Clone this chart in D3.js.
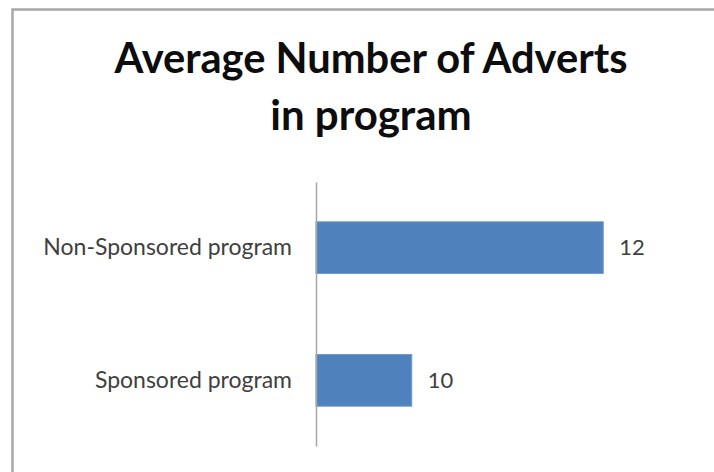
<!DOCTYPE html>
<html>
<head>
<meta charset="utf-8">
<script src="https://cdn.jsdelivr.net/npm/d3@7"></script>
<style>
  html, body { margin: 0; padding: 0; background: #ffffff; }
  svg { display: block; }
</style>
</head>
<body>
<svg id="chart" width="714" height="472"></svg>
<script>
// Chart data
const titleLines = ["Average Number of Adverts", "in program"];
const categories = ["Non-Sponsored program", "Sponsored program"];
const values = [12, 10];
const valueDomain = [9, 13];

const W = 714, H = 472;
const svg = d3.select("#chart");
const FONT = "Lato, Calibri, 'Open Sans', sans-serif";

// Chart frame (runs off the right and bottom edges)
svg.append("rect")
  .attr("x", 12.5).attr("y", 9.5)
  .attr("width", W + 20).attr("height", H + 20)
  .attr("fill", "#ffffff")
  .attr("stroke", "#a8a8a8")
  .attr("stroke-width", 2.5);

// Squeeze text to a given width when the font runs wider than it
function fitWidth(sel, w) {
  sel.each(function () {
    const len = this.getComputedTextLength();
    if (len > w) {
      d3.select(this).attr("textLength", w).attr("lengthAdjust", "spacingAndGlyphs");
    }
  });
}

// Title
const titleY = [73, 130];
const titleW = [513, 202];
titleLines.forEach((t, i) => {
  const el = svg.append("text")
    .attr("x", 371).attr("y", titleY[i])
    .attr("text-anchor", "middle")
    .attr("font-family", FONT)
    .attr("font-weight", 700)
    .attr("font-size", 42)
    .attr("fill", "#0d0d0d")
    .text(t);
  fitWidth(el, titleW[i]);
});

// Scales
const x = d3.scaleLinear().domain(valueDomain).range([316, 699]);
const y = d3.scaleBand().domain(categories).range([182, 446])
  .paddingInner(0.61).paddingOuter(0.3);

const data = categories.map((c, i) => ({ cat: c, val: values[i] }));

// Bars
svg.append("g").selectAll("rect")
  .data(data)
  .join("rect")
  .attr("x", x(valueDomain[0]))
  .attr("y", d => y(d.cat))
  .attr("width", d => x(d.val) - x(valueDomain[0]))
  .attr("height", y.bandwidth())
  .attr("fill", "#4f81bd")
  .attr("stroke", "#6f9bd1")
  .attr("stroke-width", 1);

// Category axis (line only, no ticks)
const axis = svg.append("g")
  .attr("transform", `translate(${x(valueDomain[0])},0)`)
  .call(d3.axisLeft(y).tickSize(0).tickPadding(24).tickSizeOuter(0));
axis.select(".domain").attr("stroke", "#a6a6a6").attr("stroke-width", 1.5);
axis.selectAll(".tick text")
  .attr("font-family", FONT)
  .attr("font-size", 23)
  .attr("fill", "#3f3f3f")
  .attr("dy", "0.32em");
axis.selectAll(".tick text").each(function (d) {
  const target = d === categories[0] ? 249 : 198;
  fitWidth(d3.select(this), target);
});

// Value labels
svg.append("g").selectAll("text")
  .data(data)
  .join("text")
  .attr("x", d => x(d.val) + 16)
  .attr("y", d => y(d.cat) + y.bandwidth() / 2)
  .attr("dy", "0.35em")
  .attr("font-family", FONT)
  .attr("font-size", 22)
  .attr("fill", "#3f3f3f")
  .text(d => d.val);
</script>
</body>
</html>
